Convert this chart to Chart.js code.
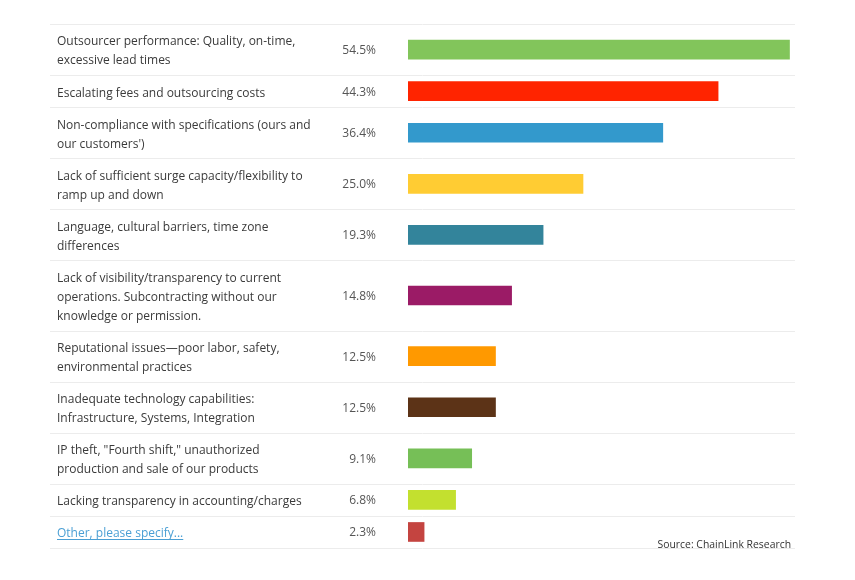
<!DOCTYPE html>
<html>
<head>
<meta charset="utf-8">
<script src="https://cdn.jsdelivr.net/npm/chart.js@4/dist/chart.umd.min.js"></script>
<style>
  html, body { margin: 0; padding: 0; background: #ffffff; }
  #wrap { width: 855px; height: 580px; position: relative; }
</style>
</head>
<body>
<div id="wrap"><canvas id="c" width="855" height="580"></canvas></div>
<script>
const categories = [
  ["Outsourcer performance: Quality, on-time,", "excessive lead times"],
  ["Escalating fees and outsourcing costs"],
  ["Non-compliance with specifications (ours and", "our customers')"],
  ["Lack of sufficient surge capacity/flexibility to", "ramp up and down"],
  ["Language, cultural barriers, time zone", "differences"],
  ["Lack of visibility/transparency to current", "operations. Subcontracting without our", "knowledge or permission."],
  ["Reputational issues\u2014poor labor, safety,", "environmental practices"],
  ["Inadequate technology capabilities:", "Infrastructure, Systems, Integration"],
  ["IP theft, \"Fourth shift,\" unauthorized", "production and sale of our products"],
  ["Lacking transparency in accounting/charges"],
  ["Other, please specify..."]
];
const values = [54.5, 44.3, 36.4, 25.0, 19.3, 14.8, 12.5, 12.5, 9.1, 6.8, 2.3];
const valueLabels = ["54.5%", "44.3%", "36.4%", "25.0%", "19.3%", "14.8%", "12.5%", "12.5%", "9.1%", "6.8%", "2.3%"];
const barColors = ["#82c55b", "#ff2400", "#3399cc", "#ffcc33", "#33849b", "#9b1b66", "#ff9900", "#5c3317", "#76bf57", "#c3e02f", "#c44440"];
const linkIndex = 10;
const sourceText = "Source: ChainLink Research";

// layout derived from number of text lines per row
const LINE_H = 19, ROW_PAD = 13;
const TEXT_SHIFT = 2; // text sits slightly below row centre
const rowHeights = categories.map(l => ROW_PAD + LINE_H * l.length);
const boundaries = [0];
rowHeights.forEach(h => boundaries.push(boundaries[boundaries.length - 1] + h));
const rowCenters = rowHeights.map((h, i) => boundaries[i] + h / 2);
const total = boundaries[boundaries.length - 1];

const FONT = "'Open Sans', sans-serif";
const FS = 12;
const LABEL_LEFT = 57;
const BAR_LEFT = 408;

const tablePlugin = {
  id: 'tablePlugin',
  beforeDatasetsDraw(chart) {
    const ctx = chart.ctx;
    const y = chart.scales.y;
    ctx.save();
    ctx.strokeStyle = '#ececec';
    ctx.lineWidth = 1;
    boundaries.forEach(b => {
      const py = Math.round(y.getPixelForValue(b)) + 0.5;
      ctx.beginPath();
      ctx.moveTo(50, py);
      ctx.lineTo(795, py);
      ctx.stroke();
    });
    ctx.restore();
  },
  afterDraw(chart) {
    const ctx = chart.ctx;
    const y = chart.scales.y;
    ctx.save();
    ctx.font = FS + "px " + FONT;
    ctx.fillStyle = '#555555';
    ctx.textAlign = 'right';
    ctx.textBaseline = 'middle';
    valueLabels.forEach((t, i) => {
      ctx.fillText(t, 376, y.getPixelForValue(rowCenters[i]) + 1);
    });
    // underline for link label
    const txt = categories[linkIndex][0];
    const w = ctx.measureText(txt).width;
    const uy = Math.round(y.getPixelForValue(rowCenters[linkIndex]) + TEXT_SHIFT + 5) + 0.5;
    ctx.strokeStyle = '#4a9fd4';
    ctx.lineWidth = 1;
    ctx.beginPath();
    ctx.moveTo(LABEL_LEFT, uy);
    ctx.lineTo(LABEL_LEFT + w, uy);
    ctx.stroke();
    // source
    ctx.font = "10.4px " + FONT;
    ctx.fillStyle = '#333333';
    ctx.textAlign = 'right';
    ctx.fillText(sourceText, 791, 545);
    ctx.restore();
  }
};

new Chart(document.getElementById('c'), {
  type: 'bar',
  data: {
    datasets: [{
      data: values.map((v, i) => ({ x: v, y: rowCenters[i] })),
      backgroundColor: barColors,
      borderWidth: 0,
      barThickness: 19
    }]
  },
  options: {
    indexAxis: 'y',
    responsive: false,
    animation: false,
    layout: { padding: { left: LABEL_LEFT, right: 55, top: 24, bottom: 32 } },
    plugins: { legend: { display: false }, tooltip: { enabled: false }, title: { display: false } },
    scales: {
      x: { type: 'linear', min: 0, max: 56, display: false },
      y: {
        type: 'linear', min: 0, max: total, reverse: true, offset: false,
        border: { display: false },
        grid: { display: false, drawTicks: false, offset: false },
        afterBuildTicks(scale) { scale.ticks = rowCenters.map(v => ({ value: v + TEXT_SHIFT })); },
        afterFit(scale) {
          scale.width = BAR_LEFT - LABEL_LEFT;
          scale.paddingTop = 0;
          scale.paddingBottom = 0;
        },
        ticks: {
          autoSkip: false,
          crossAlign: 'far',
          padding: 0,
          font: { family: FONT, size: FS, lineHeight: LINE_H + 'px' },
          color: (c) => c.index === linkIndex ? '#4a9fd4' : '#3a3a3a',
          callback: (value, index) => categories[index]
        }
      }
    }
  },
  plugins: [tablePlugin]
});
</script>
</body>
</html>
